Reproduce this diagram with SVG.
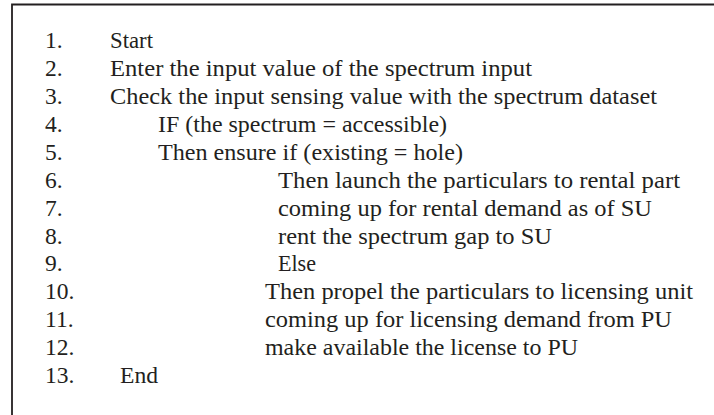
<svg xmlns="http://www.w3.org/2000/svg" width="714" height="415" viewBox="0 0 714 415">
  <style>
    text { font-family: "Liberation Serif", "Times New Roman", serif; font-size: 23.5px; fill: #231f20; }
    .frame { fill: none; stroke: #231f20; stroke-width: 1.8; }
  </style>
  <rect width="714" height="415" fill="#ffffff"/>
  <!-- open frame: top and left edges only -->
  <path class="frame" d="M12 416 V4.5 H715"/>
  <g id="steps">
    <g id="step1"><text x="45" y="48">1.</text><text x="110" y="48" textLength="43" lengthAdjust="spacingAndGlyphs">Start</text></g>
    <g id="step2"><text x="45" y="76">2.</text><text x="110" y="76" textLength="422" lengthAdjust="spacingAndGlyphs">Enter the input value of the spectrum input</text></g>
    <g id="step3"><text x="45" y="104">3.</text><text x="110" y="104" textLength="547" lengthAdjust="spacingAndGlyphs">Check the input sensing value with the spectrum dataset</text></g>
    <g id="step4"><text x="45" y="132">4.</text><text x="158" y="132" textLength="289" lengthAdjust="spacingAndGlyphs">IF (the spectrum = accessible)</text></g>
    <g id="step5"><text x="45" y="160">5.</text><text x="158" y="160" textLength="305" lengthAdjust="spacingAndGlyphs">Then ensure if (existing = hole)</text></g>
    <g id="step6"><text x="45" y="188">6.</text><text x="278" y="188" textLength="402" lengthAdjust="spacingAndGlyphs">Then launch the particulars to rental part</text></g>
    <g id="step7"><text x="45" y="216">7.</text><text x="278" y="216" textLength="374" lengthAdjust="spacingAndGlyphs">coming up for rental demand as of SU</text></g>
    <g id="step8"><text x="45" y="244">8.</text><text x="278" y="244" textLength="274" lengthAdjust="spacingAndGlyphs">rent the spectrum gap to SU</text></g>
    <g id="step9"><text x="45" y="271">9.</text><text x="278" y="271" textLength="38" lengthAdjust="spacingAndGlyphs">Else</text></g>
    <g id="step10"><text x="45" y="299">10.</text><text x="265" y="299" textLength="428" lengthAdjust="spacingAndGlyphs">Then propel the particulars to licensing unit</text></g>
    <g id="step11"><text x="45" y="327">11.</text><text x="265" y="327" textLength="407" lengthAdjust="spacingAndGlyphs">coming up for licensing demand from PU</text></g>
    <g id="step12"><text x="45" y="355">12.</text><text x="265" y="355" textLength="313" lengthAdjust="spacingAndGlyphs">make available the license to PU</text></g>
    <g id="step13"><text x="45" y="383">13.</text><text x="120" y="383" textLength="38" lengthAdjust="spacingAndGlyphs">End</text></g>
  </g>
</svg>
